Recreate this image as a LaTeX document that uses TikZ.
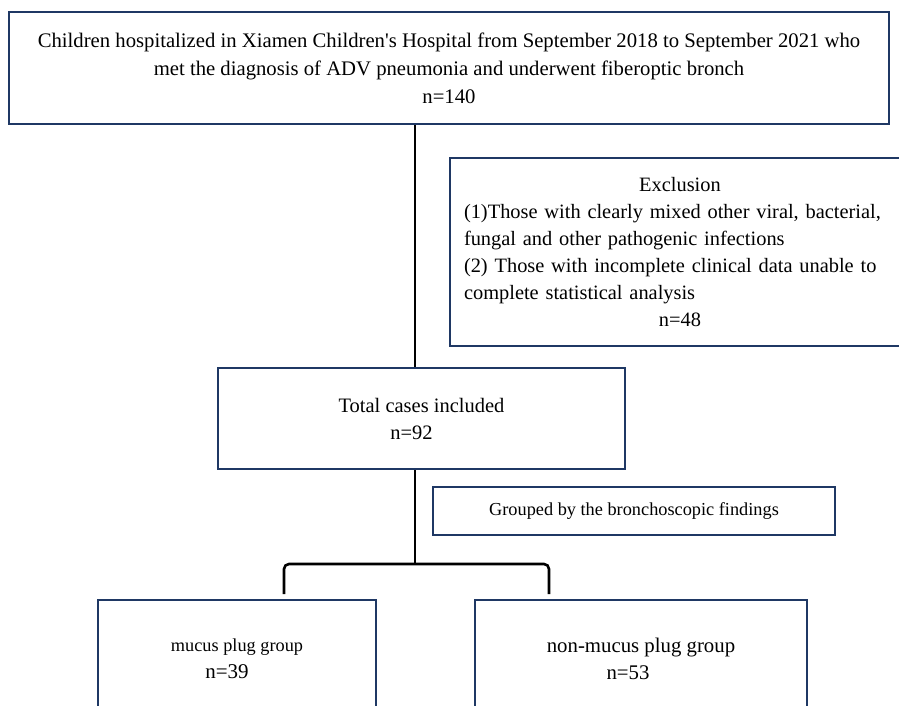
\documentclass[tikz,border=0pt]{standalone}
\usepackage{fontspec}
\setmainfont{Liberation Serif}
\usepackage{tikz}
\usetikzlibrary{positioning}
\definecolor{boxnavy}{HTML}{1F3864}

\tikzset{
  flowbox/.style={draw=boxnavy, line width=2.6pt, align=center, inner sep=0pt},
  link/.style={draw=black, line width=2pt},
  bracketline/.style={draw=black, line width=2.6pt, rounded corners=5pt}
}

\begin{document}
\begin{tikzpicture}[x=1pt,y=-1pt]
\useasboundingbox (0,0) rectangle (899,706);
\node[flowbox, minimum width=880pt, minimum height=112pt, font=\fontsize{20.7}{28}\selectfont] (top) at (449,68)
  {Children hospitalized in Xiamen Children\textquotesingle s Hospital from September 2018 to September 2021 who\\
   met the diagnosis of ADV pneumonia and underwent fiberoptic bronch\\
   n=140};
\node[flowbox, minimum width=460pt, minimum height=188pt, text width=432pt, align=left, font=\fontsize{20.4}{27}\selectfont] (excl) at (680,252)
  {\makebox[\linewidth]{Exclusion}\\
   (1)Those with clearly mixed other viral, bacterial,\\
   fungal and other pathogenic infections\\
   (2) Those with incomplete clinical data unable to\\
   complete statistical analysis\\
   \makebox[\linewidth]{n=48}};
\node[flowbox, minimum width=407pt, minimum height=101pt, font=\fontsize{20.5}{27}\selectfont] (total) at (421.5,418.5)
  {Total cases included\\ n=92\hspace*{20pt}};
\node[flowbox, minimum width=402pt, minimum height=48pt, font=\fontsize{18.3}{22}\selectfont] (grouped) at (634,511)
  {Grouped by the bronchoscopic findings};
\node[flowbox, minimum width=278pt, minimum height=118pt, font=\fontsize{21}{27}\selectfont] (mucus) at (237,659)
  {{\fontsize{18.3}{27}\selectfont mucus plug group}\\ n=39\hspace*{20pt}};
\node[flowbox, minimum width=332pt, minimum height=118pt, font=\fontsize{20.8}{27}\selectfont] (nonmucus) at (641,659)
  {non-mucus plug group\\ n=53\hspace*{26pt}};
\coordinate (spine) at (415,0);
\coordinate (fork) at (415,564);
\coordinate (legL) at (284,594);
\coordinate (legR) at (549,594);
\draw[link] (top.south -| spine) -- (total.north -| spine);
\draw[link] (total.south -| spine) -- (fork);
\draw[bracketline] (legL) |- (fork) -| (legR);
\end{tikzpicture}
\end{document}
